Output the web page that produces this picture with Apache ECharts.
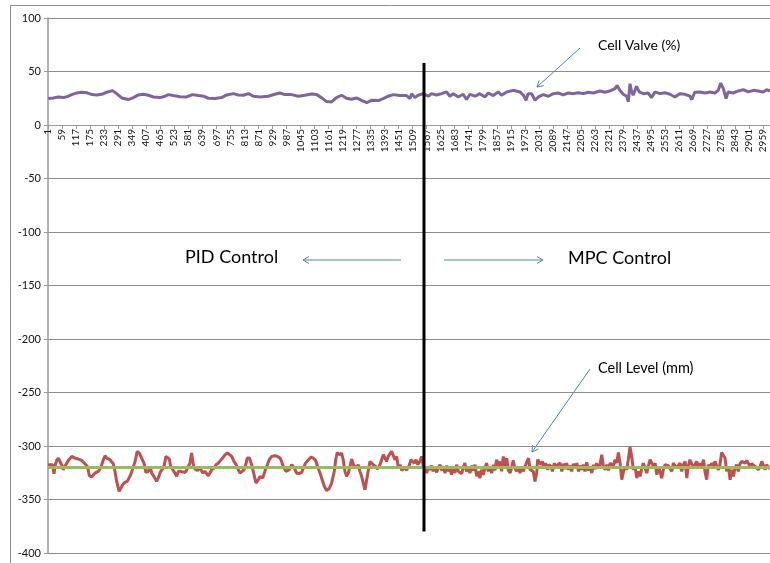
<!DOCTYPE html>
<html>
<head>
<meta charset="utf-8">
<script src="https://cdn.jsdelivr.net/npm/echarts@6/dist/echarts.min.js"></script>
<style>html,body{margin:0;padding:0;background:#fff;}#c{width:770px;height:563px;}</style>
</head>
<body>
<div id="c"></div>
<script>
// ---- data ----
const categoryCount = 2987;
const categories = Array.from({length: categoryCount}, (_, i) => String(i + 1));
const yTicks = {min: -400, max: 100, step: 50};

// Cell Valve (%) : [category index, value]
const valvePid = [[1,24.7],[22,25.3],[29,24],[43,26.2],[64,25.6],[84,26.9],[98,28.4],[119,30],[139,30.6],[160,30.2],[181,28.4],[202,28.1],[222,28.7],[243,30.6],[267,32.1],[284,29.3],[305,25.3],[332,23.8],[353,25.6],[374,28.1],[394,28.7],[415,27.8],[436,26.2],[463,25.6],[484,26.9],[498,28.4],[518,27.5],[546,26.5],[573,26.2],[598,28.4],[622,27.5],[643,26.9],[663,25],[691,24.7],[718,25.6],[739,28.1],[767,29.3],[787,28.1],[808,27.8],[829,29.3],[849,26.9],[877,26.2],[883,24.7],[911,26.9],[938,28.7],[959,29.9],[980,28.4],[1007,28.4],[1035,26.9],[1062,27.8],[1090,29],[1111,28.4],[1131,25.6],[1152,21.9],[1173,21.6],[1193,25.6],[1214,27.8],[1235,25],[1255,24.1],[1276,25.3],[1297,23.1],[1318,21],[1338,23.1],[1366,22.8],[1386,24.7],[1407,26.9],[1428,28.4],[1455,27.5],[1483,27.5],[1497,24.7],[1504,29.3],[1517,25.6],[1531,27.8],[1552,29.3]];
const valveMpc = [[1573,26.9],[1586,29.3],[1607,28.1],[1628,29.3],[1648,30.9],[1662,26.9],[1676,29.3],[1697,26.2],[1717,28.7],[1731,23.8],[1745,28.7],[1766,26.9],[1786,29.3],[1807,26.2],[1821,29.9],[1841,27.5],[1862,30.9],[1876,27.8],[1897,30.9],[1924,32.4],[1931,31.8],[1952,30.9],[1966,27.8],[1977,23.1],[1986,29.3],[2000,29.3],[2014,23.1],[2028,26.2],[2048,28.4],[2069,26.9],[2090,29.3],[2110,29.9],[2131,28.1],[2152,29.9],[2172,29.3],[2193,30.2],[2214,29.3],[2234,30.6],[2255,29.9],[2283,31.8],[2303,30.6],[2324,31.8],[2345,34],[2354,37],[2365,32.4],[2379,28.7],[2393,26.9],[2400,21.6],[2407,38.6],[2414,30.9],[2420,27.8],[2434,36.1],[2445,30.9],[2462,29.3],[2482,29.9],[2496,25.6],[2510,30.9],[2531,29.3],[2551,30.2],[2572,28.7],[2593,26.2],[2613,29.3],[2634,28.7],[2655,26.9],[2662,23.8],[2675,30.6],[2696,30.9],[2717,29.9],[2738,30.9],[2758,29.9],[2772,32.4],[2782,39.2],[2793,34],[2804,24.7],[2813,30.9],[2834,29.9],[2855,31.8],[2875,33],[2896,30.9],[2917,32.4],[2937,31.8],[2958,30.9],[2972,33],[2986,31.8]];

// Cell Level (mm)
const levelPid = [[0,-317.5],[8,-316.6],[19,-317.5],[25,-326],[29,-318.4],[36,-313.5],[43,-311.3],[50,-312.8],[57,-318],[63,-322.2],[70,-319],[84,-313.5],[98,-309.7],[105,-308.2],[112,-311.3],[125,-312.2],[139,-313.5],[153,-316.6],[163,-319.1],[171,-327.8],[181,-329],[194,-325.3],[208,-323.7],[215,-321.6],[222,-317.5],[229,-312.8],[236,-309.1],[243,-311.3],[256,-312.8],[263,-312.2],[270,-316.6],[277,-323.7],[284,-333.1],[294,-342.4],[301,-340.9],[309,-336.2],[318,-334],[328,-333.1],[336,-331.5],[342,-326.9],[350,-321.6],[360,-314.4],[369,-305],[378,-306.6],[387,-311.3],[397,-316],[405,-324.7],[415,-323.7],[422,-319.1],[429,-325.3],[438,-328.4],[449,-333.1],[456,-330],[466,-323.7],[474,-321.6],[480,-318.4],[488,-309.7],[495,-308.2],[502,-312.2],[507,-319.1],[516,-322.2],[525,-325.3],[532,-328.4],[539,-323.7],[549,-323.7],[557,-322.2],[567,-324.7],[573,-322.8],[580,-323.7],[587,-316],[594,-306.6],[601,-317.5],[608,-321.6],[618,-322.8],[629,-320.6],[640,-325.3],[649,-323.7],[663,-327.8],[670,-325.3],[677,-322.2],[687,-320.6],[695,-317.5],[704,-316],[711,-316.6],[722,-311.3],[732,-308.2],[742,-306.6],[750,-306],[760,-309.7],[769,-314.4],[778,-317.5],[787,-322.2],[794,-325.3],[801,-323.7],[811,-322.2],[819,-316.6],[824,-311.3],[833,-311.3],[838,-314.4],[844,-319.1],[852,-326.9],[860,-334.6],[870,-331.5],[877,-328.4],[888,-330],[897,-323.7],[907,-317.5],[915,-312.8],[925,-309.7],[939,-309.1],[948,-309.7],[960,-311.3],[966,-314.4],[973,-319.1],[984,-323.7],[990,-325.3],[998,-322.2],[1008,-317.5],[1019,-320.6],[1028,-325.3],[1038,-325.9],[1049,-324.7],[1056,-320.6],[1065,-316],[1077,-312.8],[1088,-310.3],[1097,-311.3],[1107,-313.5],[1115,-319.1],[1125,-325.3],[1134,-331.5],[1143,-337.8],[1152,-341.5],[1162,-340.2],[1173,-334.6],[1184,-323.7],[1190,-312.8],[1196,-306],[1205,-308.2],[1214,-306.6],[1221,-312.8],[1228,-323.7],[1235,-328.4],[1242,-325.3],[1249,-319.1],[1256,-312.2],[1263,-317.5],[1270,-316],[1276,-320.6],[1283,-317.5],[1290,-323.7],[1297,-328.4],[1304,-334.6],[1311,-340.9],[1318,-331.5],[1325,-322.2],[1332,-314.4],[1338,-316],[1345,-317.5],[1355,-319.1],[1363,-321.6],[1373,-317.5],[1380,-312.8],[1387,-308.2],[1394,-311.3],[1400,-314.4],[1407,-309.7],[1414,-311.3],[1421,-305],[1428,-306.6],[1435,-312.8],[1442,-309.7],[1449,-320.6],[1456,-317.5],[1463,-322.8],[1474,-320.6],[1483,-322.2],[1493,-319.1],[1501,-312.8],[1508,-311.3],[1515,-316],[1522,-312.8],[1529,-317.5],[1538,-314.4],[1545,-309.7],[1551,-317.5]];
const levelMpc = [[1559,-320.6],[1566,-325.3],[1573,-319.1],[1580,-322.2],[1587,-318.4],[1593,-323.7],[1600,-319.1],[1607,-324.7],[1614,-320.6],[1621,-317.5],[1628,-322.8],[1635,-319.1],[1642,-325.3],[1649,-318.4],[1656,-323.7],[1662,-320.6],[1669,-326.9],[1676,-319.1],[1683,-325.3],[1690,-317.5],[1697,-323.7],[1704,-322.2],[1711,-325.9],[1718,-319.7],[1724,-316],[1731,-323.7],[1738,-320.6],[1745,-325.3],[1752,-318.4],[1759,-322.8],[1766,-317.5],[1773,-328.4],[1780,-323.7],[1786,-330],[1793,-322.2],[1800,-326.9],[1807,-320.6],[1814,-316],[1821,-323.7],[1828,-319.1],[1835,-325.3],[1842,-317.5],[1849,-322.8],[1855,-312.8],[1862,-319.1],[1869,-314.4],[1876,-323.7],[1883,-309.7],[1890,-319.1],[1897,-311.3],[1904,-322.8],[1911,-325.3],[1917,-320.6],[1924,-313.5],[1931,-320.6],[1938,-323.7],[1945,-319.1],[1952,-325.3],[1959,-320.6],[1966,-323.7],[1973,-319.1],[1987,-311.3],[1994,-322.2],[2001,-320.6],[2007,-323.7],[2014,-333.1],[2021,-325.3],[2025,-312.8],[2031,-311.3],[2039,-317.5],[2045,-314.4],[2053,-320.6],[2058,-316],[2067,-322.2],[2072,-317.5],[2081,-319.1],[2086,-323.7],[2094,-316],[2100,-320.6],[2108,-317.5],[2118,-316],[2125,-323.7],[2132,-316.6],[2138,-321.6],[2145,-316],[2152,-322.2],[2159,-318.4],[2166,-323.7],[2173,-316.6],[2180,-320.6],[2187,-316],[2194,-323.7],[2200,-318.4],[2207,-322.2],[2214,-317.5],[2221,-323.7],[2228,-315.3],[2235,-322.8],[2242,-319.1],[2249,-325.3],[2256,-317.5],[2263,-321.6],[2269,-316],[2276,-320.6],[2283,-317.5],[2290,-308.2],[2297,-319.1],[2304,-322.2],[2311,-317.5],[2318,-322.8],[2325,-316],[2331,-314.4],[2338,-319.1],[2345,-312.8],[2352,-316],[2359,-306],[2366,-316],[2373,-331.5],[2380,-323.7],[2387,-319.1],[2393,-322.2],[2400,-312.8],[2407,-301],[2414,-309.7],[2421,-322.2],[2428,-319.1],[2435,-330],[2442,-323.7],[2449,-328.4],[2456,-320.6],[2462,-316],[2469,-320.6],[2476,-325.3],[2483,-319.1],[2490,-312.8],[2497,-311.3],[2504,-319.1],[2511,-316],[2518,-326.9],[2524,-319.1],[2531,-323.7],[2538,-330],[2545,-322.2],[2552,-317.5],[2559,-316],[2566,-318.4],[2573,-316.6],[2580,-323.7],[2586,-316],[2593,-314.4],[2600,-320.6],[2607,-319.1],[2614,-316],[2621,-323.7],[2628,-317.5],[2635,-314.4],[2642,-330],[2648,-319.1],[2655,-312.8],[2662,-312.2],[2669,-320.6],[2676,-317.5],[2683,-314.4],[2690,-320.6],[2697,-316],[2704,-319.1],[2711,-312.8],[2717,-323.7],[2724,-331.5],[2731,-317.5],[2738,-320.6],[2745,-316],[2752,-318.4],[2759,-314.4],[2766,-319.1],[2773,-322.2],[2779,-317.5],[2786,-306],[2793,-305],[2800,-311.3],[2807,-323.7],[2814,-319.1],[2821,-331.5],[2828,-322.2],[2835,-328.4],[2841,-320.6],[2848,-317.5],[2855,-323.7],[2862,-316.6],[2869,-314.4],[2876,-313.5],[2883,-316],[2890,-313.5],[2897,-315.3],[2904,-319.1],[2910,-316.6],[2917,-316],[2924,-319.1],[2931,-317.5],[2938,-322.2],[2945,-319.1],[2952,-314.4],[2959,-316],[2966,-322.2],[2972,-317.5],[2979,-319.7],[2986,-321.6]];

// Level set point (mm)
const setPoint = [[0,-320],[2986,-320]];
// PID / MPC switch-over marker
const switchAt = 1555;
const switchRange = [-380, 58];

// ---- chart ----
const chart = echarts.init(document.getElementById('c'), null, {renderer: 'canvas'});
const FONT = 'Lato, "Open Sans", sans-serif';
const blue = '#4F81BD';
const gridTop = 18, gridBottom = 10, H = 563;
const plotH = H - gridTop - gridBottom;
// shift category axis from bottom edge up to the y = 0 line
const zeroOffset = -plotH * (0 - yTicks.min) / (yTicks.max - yTicks.min);

function arrow(x1, y1, x2, y2) {
  const dx = x2 - x1, dy = y2 - y1, L = Math.hypot(dx, dy);
  const ux = -dx / L, uy = -dy / L, h = 7, c = Math.cos(Math.PI / 6), s = Math.sin(Math.PI / 6);
  const a = [x2 + h * (ux * c - uy * s), y2 + h * (ux * s + uy * c)];
  const b = [x2 + h * (ux * c + uy * s), y2 + h * (-ux * s + uy * c)];
  return [
    {type: 'line', shape: {x1, y1, x2, y2}, style: {stroke: blue, lineWidth: 1}, silent: true},
    {type: 'polyline', shape: {points: [a, [x2, y2], b]}, style: {stroke: blue, lineWidth: 1, fill: null}, silent: true}
  ];
}
function label(text, x, y, size) {
  return {type: 'text', left: x, top: y - size * 0.62, style: {text, fill: '#000', font: size + 'px ' + FONT}, silent: true};
}

chart.setOption({
  animation: false,
  backgroundColor: '#fff',
  grid: {left: 48, right: 0, top: gridTop, bottom: gridBottom, containLabel: false},
  xAxis: {
    type: 'category',
    data: categories,
    boundaryGap: false,
    position: 'bottom',
    offset: zeroOffset,
    axisLine: {onZero: false, lineStyle: {color: '#9a9a9a', width: 1}},
    axisTick: {show: true, interval: 57, length: 4, lineStyle: {color: '#9a9a9a'}},
    axisLabel: {interval: 57, rotate: 90, fontSize: 10, color: '#111', fontFamily: FONT, margin: 4},
    splitLine: {show: false}
  },
  yAxis: {
    type: 'value',
    min: yTicks.min, max: yTicks.max, interval: yTicks.step,
    axisLine: {show: true, lineStyle: {color: '#9a9a9a', width: 1.5}},
    axisTick: {show: true, length: 4, lineStyle: {color: '#9a9a9a'}},
    axisLabel: {fontSize: 11, color: '#111', fontFamily: FONT, margin: 7},
    splitLine: {show: true, lineStyle: {color: '#8c8c8c', width: 1}}
  },
  series: [
    {name: 'Cell Valve (%)', type: 'line', data: valvePid.concat(valveMpc), showSymbol: false, lineStyle: {color: '#8064A2', width: 3}, itemStyle: {color: '#8064A2'}, z: 3},
    {name: 'Set Point', type: 'line', data: setPoint, showSymbol: false, lineStyle: {color: '#9BBB59', width: 3}, z: 4},
    {name: 'Cell Level (mm)', type: 'line', data: levelPid.concat(levelMpc), showSymbol: false, lineStyle: {color: '#C0504D', width: 3}, itemStyle: {color: '#C0504D'}, z: 3},
    {name: 'Switch', type: 'line', data: [[switchAt, switchRange[0]], [switchAt, switchRange[1]]], showSymbol: false, lineStyle: {color: '#000', width: 3}, z: 5}
  ],
  graphic: [
    {type: 'rect', shape: {x: 10.5, y: 5.5, width: 900, height: 700}, style: {stroke: '#8c8c8c', fill: null, lineWidth: 1}, silent: true, z: -1},
    label('PID Control', 185, 259, 18),
    label('MPC Control', 568, 260, 18),
    label('Cell Valve (%)', 598, 47, 14),
    label('Cell Level (mm)', 598, 370, 14.5),
    ...arrow(401, 260, 303, 260),
    ...arrow(444, 260, 543, 260),
    ...arrow(580, 48, 537, 87),
    ...arrow(590, 369, 532, 452)
  ]
});
</script>
</body>
</html>
